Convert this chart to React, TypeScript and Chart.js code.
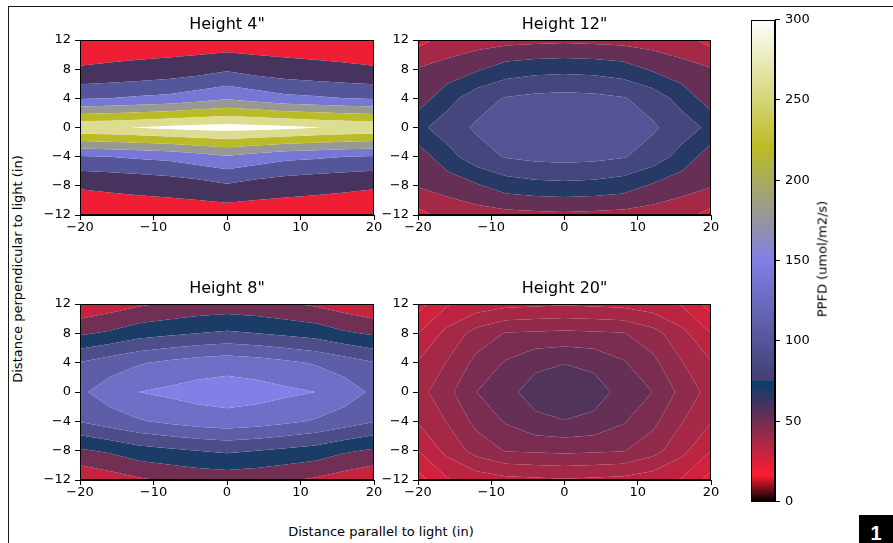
import React, { useEffect, useRef } from 'react';
import { Chart, registerables } from 'chart.js';

Chart.register(...registerables);
Chart.defaults.font.family = "'DejaVu Sans', sans-serif";
Chart.defaults.color = '#000';

// ---------- data ----------
const xPositions = [-20, -16, -12, -8, -4, 0, 4, 8, 12, 16, 20];
const yPositions = [12, 8, 4, 0, -4, -8, -12];

const ppfdHeight4 = [
  [25, 23, 21, 19, 17, 15, 17, 19, 21, 23, 25],
  [42, 45, 49, 54, 62, 74, 62, 54, 49, 45, 42],
  [116, 120, 126, 131, 143, 155, 143, 131, 126, 120, 116],
  [273, 277, 281, 288, 293, 296, 293, 288, 281, 277, 273],
  [116, 120, 126, 131, 143, 155, 143, 131, 126, 120, 116],
  [42, 45, 49, 54, 62, 74, 62, 54, 49, 45, 42],
  [25, 23, 21, 19, 17, 15, 17, 19, 21, 23, 25],
];
const ppfdHeight12 = [
  [25, 35, 38, 40, 41, 42, 41, 40, 38, 35, 25],
  [46, 51, 58, 67, 70, 71, 70, 67, 58, 51, 46],
  [52, 69, 84, 91, 94, 95, 94, 91, 84, 69, 52],
  [71, 83, 92, 97, 100, 101, 100, 97, 92, 83, 71],
  [52, 69, 84, 91, 94, 95, 94, 91, 84, 69, 52],
  [46, 51, 58, 67, 70, 71, 70, 67, 58, 51, 46],
  [25, 35, 38, 40, 41, 42, 41, 40, 38, 35, 25],
];
const ppfdHeight8 = [
  [23, 30, 37, 42, 46, 48, 46, 42, 37, 30, 23],
  [57, 63, 72, 76, 80, 83, 80, 76, 72, 63, 57],
  [101, 110, 118, 124, 129, 132, 129, 124, 118, 110, 101],
  [116, 130, 140, 144, 148, 150, 148, 144, 140, 130, 116],
  [101, 110, 118, 124, 129, 132, 129, 124, 118, 110, 101],
  [57, 63, 72, 76, 80, 83, 80, 76, 72, 63, 57],
  [23, 30, 37, 42, 46, 48, 46, 42, 37, 30, 23],
];
const ppfdHeight20 = [
  [23, 29.5, 32, 33.5, 34, 34.5, 34, 33.5, 32, 29.5, 23],
  [30, 36.5, 42, 45.3, 45.7, 46.1, 45.7, 45.3, 42, 36.5, 30],
  [35.3, 40.3, 46.5, 50.5, 53.9, 54.8, 53.9, 50.5, 46.5, 40.3, 35.3],
  [38, 43.5, 50, 53.5, 57, 59, 57, 53.5, 50, 43.5, 38],
  [35.3, 40.3, 46.5, 50.5, 53.9, 54.8, 53.9, 50.5, 46.5, 40.3, 35.3],
  [30, 36.5, 42, 45.3, 45.7, 46.1, 45.7, 45.3, 42, 36.5, 30],
  [23, 29.5, 32, 33.5, 34, 34.5, 34, 33.5, 32, 29.5, 23],
];

const levelsHeight4 = [0, 40, 80, 120, 160, 200, 240, 280, 320];
const levelsHeight12 = [15, 30, 45, 60, 75, 90, 105];
const levelsHeight8 = [20, 40, 60, 80, 100, 120, 140, 160];
const levelsHeight20 = [20, 25, 30, 35, 40, 45, 50, 55, 60];

const subplotTitles = ['Height 4"', 'Height 12"', 'Height 8"', 'Height 20"'];
const xTicks = [-20, -10, 0, 10, 20];
const yTicks = [-12, -8, -4, 0, 4, 8, 12];
const colorbarTicks = [0, 50, 100, 150, 200, 250, 300];
const colorbarMin = 0;
const colorbarMax = 300;

// ---------- colormap (gist_stern, slightly muted in blue like the print) ----------
function gistStern(t: number): string {
  t = Math.min(1, Math.max(0, t));
  let r: number;
  if (t < 0.0547) r = t / 0.0547;
  else if (t < 0.25) r = 1 + ((t - 0.0547) / (0.25 - 0.0547)) * (0.027 - 1);
  else r = t;
  const g = t;
  let b: number;
  if (t < 0.5) b = 2 * t;
  else if (t < 0.735) b = 1 - (t - 0.5) / 0.235;
  else b = (t - 0.735) / 0.265;
  let R = r * 255;
  let G = g * 255;
  let B = b * 255;
  B = B + 0.2 * ((R + G) / 2 - B);
  G = G + 0.06 * (R - G) * (R > G ? 1 : 0);
  return `rgb(${Math.round(R)},${Math.round(G)},${Math.round(B)})`;
}

type P = { x: number; y: number; v: number };
function crossPt(a: P, b: P, level: number): P {
  const t = (level - a.v) / (b.v - a.v);
  return { x: a.x + t * (b.x - a.x), y: a.y + t * (b.y - a.y), v: level };
}
function clipPoly(poly: P[], level: number, keepAbove: boolean): P[] {
  const out: P[] = [];
  const inside = (p: P) => (keepAbove ? p.v >= level : p.v <= level);
  for (let k = 0; k < poly.length; k++) {
    const a = poly[k];
    const b = poly[(k + 1) % poly.length];
    const ia = inside(a);
    const ib = inside(b);
    if (ia && ib) out.push(b);
    else if (ia && !ib) out.push(crossPt(a, b, level));
    else if (!ia && ib) {
      out.push(crossPt(a, b, level));
      out.push(b);
    }
  }
  return out;
}

const fmtTick = (v: number) => {
  const r = Math.round(v);
  return r < 0 ? '\u2212' + Math.abs(r) : String(r);
};

function makeContourPlugin(levels: number[]) {
  return {
    id: 'contourFill',
    beforeDatasetsDraw(chart: any) {
      const { ctx, chartArea } = chart;
      const xs = chart.scales.x;
      const ys = chart.scales.y;
      const pts: P[] = chart.data.datasets[0].data;
      const nx = xPositions.length;
      const ny = yPositions.length;
      ctx.save();
      ctx.beginPath();
      ctx.rect(chartArea.left, chartArea.top, chartArea.right - chartArea.left, chartArea.bottom - chartArea.top);
      ctx.clip();
      for (let b = 0; b < levels.length - 1; b++) {
        const lo = levels[b];
        const hi = levels[b + 1];
        ctx.fillStyle = gistStern((lo + hi) / 2 / colorbarMax);
        ctx.beginPath();
        for (let j = 0; j < ny - 1; j++) {
          for (let i = 0; i < nx - 1; i++) {
            let poly: P[] = [
              pts[j * nx + i],
              pts[j * nx + i + 1],
              pts[(j + 1) * nx + i + 1],
              pts[(j + 1) * nx + i],
            ];
            poly = clipPoly(poly, lo, true);
            if (poly.length < 3) continue;
            poly = clipPoly(poly, hi, false);
            if (poly.length < 3) continue;
            poly.forEach((p, k) => {
              const px = xs.getPixelForValue(p.x);
              const py = ys.getPixelForValue(p.y);
              if (k === 0) ctx.moveTo(px, py);
              else ctx.lineTo(px, py);
            });
            ctx.closePath();
          }
        }
        ctx.fill();
      }
      ctx.restore();
    },
    afterDraw(chart: any) {
      const { ctx, chartArea } = chart;
      ctx.save();
      ctx.strokeStyle = '#000';
      ctx.lineWidth = 1;
      ctx.strokeRect(
        Math.round(chartArea.left) + 0.5,
        Math.round(chartArea.top) + 0.5,
        Math.round(chartArea.right - chartArea.left) - 1,
        Math.round(chartArea.bottom - chartArea.top) - 1
      );
      ctx.restore();
    },
  };
}

const AXIS_W = 50;
const TITLE_H = 30;
const XAXIS_H = 30;
const RIGHT_PAD = 12;

function ContourPanel(props: {
  left: number;
  top: number;
  width: number;
  height: number;
  title: string;
  grid: number[][];
  levels: number[];
}) {
  const { left, top, width, height, title, grid, levels } = props;
  const ref = useRef<HTMLCanvasElement>(null);
  const cw = AXIS_W + width + RIGHT_PAD;
  const ch = TITLE_H + height + XAXIS_H;
  useEffect(() => {
    const points: P[] = [];
    yPositions.forEach((yv, j) =>
      xPositions.forEach((xv, i) => points.push({ x: xv, y: yv, v: grid[j][i] }))
    );
    const tickFont = { family: "'DejaVu Sans', sans-serif", size: 13, lineHeight: 1 };
    const chart = new Chart(ref.current as HTMLCanvasElement, {
      type: 'scatter',
      data: {
        datasets: [{ data: points as any, pointRadius: 0, pointHoverRadius: 0, showLine: false }],
      },
      options: {
        responsive: false,
        animation: false,
        events: [],
        layout: { padding: { top: TITLE_H - 19.2 - 6, left: 0, right: RIGHT_PAD, bottom: 0 } },
        plugins: {
          legend: { display: false },
          tooltip: { enabled: false },
          title: {
            display: true,
            text: title,
            fullSize: false,
            color: '#000',
            font: { family: "'DejaVu Sans', sans-serif", size: 16, weight: 'normal' as any, lineHeight: 1.2 },
            padding: { top: 0, bottom: 6 },
          },
        },
        scales: {
          x: {
            type: 'linear',
            min: xTicks[0],
            max: xTicks[xTicks.length - 1],
            afterBuildTicks: (s: any) => {
              s.ticks = xTicks.map((v) => ({ value: v }));
            },
            afterFit: (s: any) => {
              s.height = XAXIS_H;
            },
            ticks: { font: tickFont, color: '#000', padding: 1, callback: (v: any) => fmtTick(Number(v)), maxRotation: 0 },
            grid: { drawOnChartArea: false, drawTicks: true, tickLength: 5, color: '#000', lineWidth: 1 },
            border: { display: true, color: '#000', width: 1 },
          },
          y: {
            type: 'linear',
            min: yTicks[0],
            max: yTicks[yTicks.length - 1],
            afterBuildTicks: (s: any) => {
              s.ticks = yTicks.map((v) => ({ value: v }));
            },
            afterFit: (s: any) => {
              s.width = AXIS_W;
            },
            ticks: { font: tickFont, color: '#000', padding: 4, callback: (v: any) => fmtTick(Number(v)) },
            grid: { drawOnChartArea: false, drawTicks: true, tickLength: 5, color: '#000', lineWidth: 1 },
            border: { display: true, color: '#000', width: 1 },
          },
        },
      } as any,
      plugins: [makeContourPlugin(levels)],
    });
    return () => chart.destroy();
  }, []);
  return (
    <canvas
      ref={ref}
      width={cw}
      height={ch}
      style={{ position: 'absolute', left: left - AXIS_W, top: top - TITLE_H, width: cw, height: ch }}
    />
  );
}

function ColorbarPanel() {
  const ref = useRef<HTMLCanvasElement>(null);
  const cw = 80;
  const ch = 505;
  useEffect(() => {
    const gradientPlugin = {
      id: 'colorbarGradient',
      beforeDatasetsDraw(chart: any) {
        const { ctx, chartArea } = chart;
        const ys = chart.scales.y;
        ctx.save();
        const top = Math.round(chartArea.top);
        const bottom = Math.round(chartArea.bottom);
        for (let py = top; py < bottom; py++) {
          const v = ys.getValueForPixel(py + 0.5);
          ctx.fillStyle = gistStern((v - colorbarMin) / (colorbarMax - colorbarMin));
          ctx.fillRect(chartArea.left, py, chartArea.right - chartArea.left, 1);
        }
        ctx.restore();
      },
      afterDraw(chart: any) {
        const { ctx, chartArea } = chart;
        ctx.save();
        ctx.strokeStyle = '#000';
        ctx.lineWidth = 1;
        ctx.strokeRect(
          Math.round(chartArea.left) + 0.5,
          Math.round(chartArea.top) + 0.5,
          Math.round(chartArea.right - chartArea.left) - 1,
          Math.round(chartArea.bottom - chartArea.top) - 1
        );
        ctx.restore();
      },
    };
    const chart = new Chart(ref.current as HTMLCanvasElement, {
      type: 'scatter',
      data: { datasets: [{ data: [] }] },
      options: {
        responsive: false,
        animation: false,
        events: [],
        layout: { padding: { top: 10, left: 11, right: 0, bottom: 11 } },
        plugins: { legend: { display: false }, tooltip: { enabled: false } },
        scales: {
          x: { type: 'linear', display: false, min: 0, max: 1 },
          y: {
            type: 'linear',
            position: 'right',
            min: colorbarMin,
            max: colorbarMax,
            afterBuildTicks: (s: any) => {
              s.ticks = colorbarTicks.map((v) => ({ value: v }));
            },
            afterFit: (s: any) => {
              s.width = 45;
            },
            ticks: { font: { family: "'DejaVu Sans', sans-serif", size: 13, lineHeight: 1 }, color: '#000', padding: 5 },
            grid: { drawOnChartArea: false, drawTicks: true, tickLength: 5, color: '#000', lineWidth: 1 },
            border: { display: true, color: '#000', width: 1 },
          },
        },
      } as any,
      plugins: [gradientPlugin],
    });
    return () => chart.destroy();
  }, []);
  return (
    <canvas
      ref={ref}
      width={cw}
      height={ch}
      style={{ position: 'absolute', left: 740, top: 8, width: cw, height: ch }}
    />
  );
}

const labelFont: React.CSSProperties = {
  fontFamily: "'DejaVu Sans', sans-serif",
  fontSize: 13,
  lineHeight: '15px',
  color: '#000',
  whiteSpace: 'nowrap',
  position: 'absolute',
};

export default function App() {
  return (
    <div
      style={{
        position: 'absolute',
        left: 0,
        top: 0,
        width: 893,
        height: 543,
        background: '#fff',
        overflow: 'hidden',
      }}
    >
      <div
        style={{
          position: 'absolute',
          left: 8,
          top: 6,
          width: 885,
          height: 537,
          borderTop: '1.5px solid #1a1a1a',
          borderLeft: '1.5px solid #1a1a1a',
          boxSizing: 'border-box',
        }}
      />
      <ContourPanel left={80} top={40} width={294} height={175} title={subplotTitles[0]} grid={ppfdHeight4} levels={levelsHeight4} />
      <ContourPanel left={418} top={40} width={293} height={175} title={subplotTitles[1]} grid={ppfdHeight12} levels={levelsHeight12} />
      <ContourPanel left={80} top={304} width={294} height={176} title={subplotTitles[2]} grid={ppfdHeight8} levels={levelsHeight8} />
      <ContourPanel left={418} top={304} width={293} height={176} title={subplotTitles[3]} grid={ppfdHeight20} levels={levelsHeight20} />
      <ColorbarPanel />
      <div style={{ ...labelFont, left: 17, top: 269, transform: 'translate(-50%, -50%) rotate(-90deg)' }}>
        Distance perpendicular to light (in)
      </div>
      <div style={{ ...labelFont, left: 381, top: 531, transform: 'translate(-50%, -50%)' }}>
        Distance parallel to light (in)
      </div>
      <div style={{ ...labelFont, left: 822, top: 259, transform: 'translate(-50%, -50%) rotate(-90deg)' }}>
        PPFD (umol/m2/s)
      </div>
      <div style={{ position: 'absolute', left: 859, top: 515, width: 34, height: 28, background: '#000' }} />
      <div
        style={{
          position: 'absolute',
          left: 859,
          top: 523,
          width: 34,
          lineHeight: '20px',
          textAlign: 'center',
          color: '#fff',
          fontFamily: "'Liberation Sans', Arial, sans-serif",
          fontWeight: 'bold',
          fontSize: 20,
        }}
      >
        1
      </div>
    </div>
  );
}
